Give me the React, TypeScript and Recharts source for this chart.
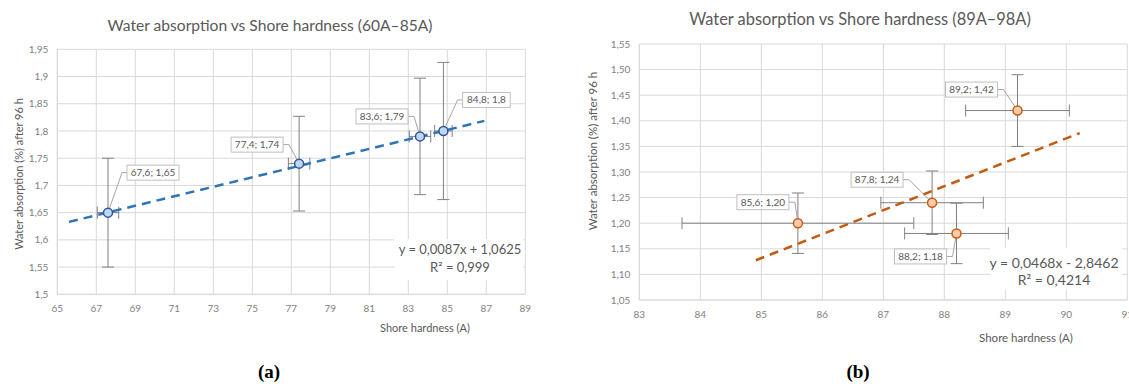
import React from "react";
import {
    ScatterChart,
    Scatter,
    XAxis,
    YAxis,
    CartesianGrid,
    ErrorBar,
} from "recharts";

// (a) 60A–85A
const hardnessA = [67.6, 77.4, 83.6, 84.8];
const absorptionA = [1.65, 1.74, 1.79, 1.8];
const hardnessErrA = [0.55, 0.55, 0.55, 0.45];
const absorptionErrA = [0.1, 0.087, 0.107, 0.126];
const pointLabelsA = ["67,6; 1,65", "77,4; 1,74", "83,6; 1,79", "84,8; 1,8"];
const trendXA = [65.6, 86.9];
const trendYA = [1.633, 1.8185];
const xTicksA = [65, 67, 69, 71, 73, 75, 77, 79, 81, 83, 85, 87, 89];
const yTicksA = [1.5, 1.55, 1.6, 1.65, 1.7, 1.75, 1.8, 1.85, 1.9, 1.95];

// (b) 89A–98A
const hardnessB = [85.6, 87.8, 88.2, 89.2];
const absorptionB = [1.2, 1.24, 1.18, 1.42];
const hardnessErrB = [1.9, 0.84, 0.85, 0.85];
const absorptionErrB = [0.059, 0.062, 0.059, 0.07];
const pointLabelsB = ["85,6; 1,20", "87,8; 1,24", "88,2; 1,18", "89,2; 1,42"];
const trendXB = [84.91, 90.22];
const trendYB = [1.1276, 1.376];
const xTicksB = [83, 84, 85, 86, 87, 88, 89, 90, 91];
const yTicksB = [1.05, 1.1, 1.15, 1.2, 1.25, 1.3, 1.35, 1.4, 1.45, 1.5, 1.55];

// callout placement (pixels relative to the marker)
const calloutsA = [
    { dx: 45, dy: -40, side: "left" },
    { dx: -42, dy: -19, side: "right" },
    { dx: -38, dy: -20, side: "right" },
    { dx: 43, dy: -31, side: "left" },
];
const calloutsB = [
    { dx: -35, dy: -21, side: "right" },
    { dx: -55, dy: -23, side: "right" },
    { dx: -36, dy: 23, side: "right" },
    { dx: -46, dy: -21, side: "right" },
];

const FONT = "Lato, 'Open Sans', sans-serif";
const GRID = "#D9D9D9";
const TEXT = "#595959";
const TICK = "#7F7F7F";

const build = (xs: number[], ys: number[], exs: number[], eys: number[]) =>
    xs.map((x, i) => ({ x, y: ys[i], ex: exs[i], ey: eys[i], i }));

const trend = (xs: number[], ys: number[]) => xs.map((x, i) => ({ x, y: ys[i] }));

const makeShape =
    (labels: string[], callouts: any[], fill: string, stroke: string) =>
    (props: any) => {
        const { cx, cy, payload } = props;
        const i = payload?.i ?? 0;
        const text = labels[i];
        const c = callouts[i];
        const w = text.length * 4.4 + 8;
        const h = 15;
        const bx = cx + c.dx;
        const by = cy + c.dy;
        const ex = c.side === "left" ? bx - w / 2 : bx + w / 2;
        const kx = c.side === "left" ? ex - 5 : ex + 6;
        return (
            <g>
                <polyline
                    points={`${ex},${by} ${kx},${by} ${cx},${cy}`}
                    fill="none"
                    stroke="#A6A6A6"
                    strokeWidth={1}
                />
                <rect
                    x={bx - w / 2}
                    y={by - h / 2}
                    width={w}
                    height={h}
                    fill="#fff"
                    stroke="#BFBFBF"
                    strokeWidth={1}
                />
                <text
                    x={bx}
                    y={by}
                    dy="0.35em"
                    textAnchor="middle"
                    fontSize={10}
                    fontFamily={FONT}
                    fill={TEXT}
                >
                    {text}
                </text>
                <circle cx={cx} cy={cy} r={4.5} fill={fill} stroke={stroke} strokeWidth={1.5} />
            </g>
        );
    };

const noShape = () => <g />;

const fmtA = (v: number) => String(Number(v.toFixed(2))).replace(".", ",");
const fmtB = (v: number) => v.toFixed(2).replace(".", ",");

const abs = (style: React.CSSProperties): React.CSSProperties => ({
    position: "absolute",
    whiteSpace: "nowrap",
    fontFamily: FONT,
    color: TEXT,
    ...style,
});

const center = (x: number, y: number): React.CSSProperties => ({
    left: x,
    top: y,
    transform: "translate(-50%, -50%)",
});

export default function App() {
    const dataA = build(hardnessA, absorptionA, hardnessErrA, absorptionErrA);
    const dataB = build(hardnessB, absorptionB, hardnessErrB, absorptionErrB);

    return (
        <div
            style={{
                position: "fixed",
                left: 0,
                top: 0,
                width: 1129,
                height: 384,
                overflow: "hidden",
                background: "#fff",
            }}
        >
            {/* chart (a) */}
            <div style={{ position: "absolute", left: 0, top: 0 }}>
                <ScatterChart
                    width={545}
                    height={340}
                    margin={{ top: 49.3, right: 19.7, bottom: 15.7, left: 7.3 }}
                >
                    <CartesianGrid stroke={GRID} />
                    <XAxis
                        type="number"
                        dataKey="x"
                        domain={[65, 89]}
                        ticks={xTicksA}
                        allowDataOverflow
                        height={30}
                        axisLine={{ stroke: GRID }}
                        tickLine={false}
                        tickSize={0}
                        tickMargin={11}
                        tick={{ fill: TICK, fontSize: 10, fontFamily: FONT }}
                    />
                    <YAxis
                        type="number"
                        dataKey="y"
                        domain={[1.5, 1.95]}
                        ticks={yTicksA}
                        allowDataOverflow
                        width={50}
                        axisLine={{ stroke: GRID }}
                        tickLine={false}
                        tickSize={0}
                        tickMargin={9}
                        tickFormatter={fmtA}
                        tick={{ fill: TICK, fontSize: 10, fontFamily: FONT }}
                    />
                    <Scatter
                        data={trend(trendXA, trendYA)}
                        line={{ stroke: "#2E75B6", strokeWidth: 2.5, strokeDasharray: "9 6" }}
                        shape={noShape}
                        isAnimationActive={false}
                    />
                    <Scatter
                        data={dataA}
                        shape={makeShape(pointLabelsA, calloutsA, "#BDD7EE", "#2F5597")}
                        isAnimationActive={false}
                    >
                        <ErrorBar dataKey="ey" direction="y" width={6} stroke="#808080" strokeWidth={1} />
                        <ErrorBar dataKey="ex" direction="x" width={6} stroke="#808080" strokeWidth={1} />
                    </Scatter>
                </ScatterChart>
            </div>

            <div style={abs({ ...center(270, 25), fontSize: 15.6 })}>
                Water absorption vs Shore hardness (60A–85A)
            </div>
            <div
                style={abs({
                    left: 18,
                    top: 174,
                    transform: "translate(-50%, -50%) rotate(-90deg)",
                    fontSize: 11,
                })}
            >
                Water absorption (%) after 96 h
            </div>
            <div style={abs({ ...center(425, 327), fontSize: 11 })}>Shore hardness (A)</div>
            <div
                style={abs({
                    left: 394,
                    top: 239,
                    width: 129,
                    height: 41,
                    background: "#fff",
                })}
            />
            <div style={abs({ ...center(460, 249), fontSize: 13 })}>y = 0,0087x + 1,0625</div>
            <div style={abs({ ...center(460, 267), fontSize: 13 })}>R² = 0,999</div>
            <div
                style={abs({
                    ...center(269, 372),
                    fontSize: 19,
                    fontWeight: "bold",
                    fontFamily: "'Liberation Serif', serif",
                    color: "#000",
                })}
            >
                (a)
            </div>

            {/* chart (b) */}
            <div style={{ position: "absolute", left: 560, top: 0 }}>
                <ScatterChart
                    width={580}
                    height={340}
                    margin={{ top: 44, right: 12.7, bottom: 10, left: 29.3 }}
                >
                    <CartesianGrid stroke={GRID} />
                    <XAxis
                        type="number"
                        dataKey="x"
                        domain={[83, 91]}
                        ticks={xTicksB}
                        allowDataOverflow
                        height={30}
                        axisLine={{ stroke: GRID }}
                        tickLine={false}
                        tickSize={0}
                        tickMargin={11}
                        tick={{ fill: TICK, fontSize: 10, fontFamily: FONT }}
                    />
                    <YAxis
                        type="number"
                        dataKey="y"
                        domain={[1.05, 1.55]}
                        ticks={yTicksB}
                        allowDataOverflow
                        width={50}
                        axisLine={{ stroke: GRID }}
                        tickLine={false}
                        tickSize={0}
                        tickMargin={9}
                        tickFormatter={fmtB}
                        tick={{ fill: TICK, fontSize: 10, fontFamily: FONT }}
                    />
                    <Scatter
                        data={trend(trendXB, trendYB)}
                        line={{ stroke: "#C55A11", strokeWidth: 2.5, strokeDasharray: "9 6" }}
                        shape={noShape}
                        isAnimationActive={false}
                    />
                    <Scatter
                        data={dataB}
                        shape={makeShape(pointLabelsB, calloutsB, "#F8CBAD", "#C55A11")}
                        isAnimationActive={false}
                    >
                        <ErrorBar dataKey="ey" direction="y" width={6} stroke="#808080" strokeWidth={1} />
                        <ErrorBar dataKey="ex" direction="x" width={6} stroke="#808080" strokeWidth={1} />
                    </Scatter>
                </ScatterChart>
            </div>

            <div style={abs({ ...center(860, 18), fontSize: 16.4 })}>
                Water absorption vs Shore hardness (89A–98A)
            </div>
            <div
                style={abs({
                    left: 592,
                    top: 151,
                    transform: "translate(-50%, -50%) rotate(-90deg)",
                    fontSize: 11.5,
                })}
            >
                Water absorption (%) after 96 h
            </div>
            <div style={abs({ ...center(1026, 337), fontSize: 11.5 })}>Shore hardness (A)</div>
            <div
                style={abs({
                    left: 990,
                    top: 248,
                    width: 132,
                    height: 42,
                    background: "#fff",
                })}
            />
            <div style={abs({ ...center(1054, 262), fontSize: 14 })}>y = 0,0468x - 2,8462</div>
            <div style={abs({ ...center(1054, 279), fontSize: 14 })}>R² = 0,4214</div>
            <div
                style={abs({
                    ...center(858, 372),
                    fontSize: 19,
                    fontWeight: "bold",
                    fontFamily: "'Liberation Serif', serif",
                    color: "#000",
                })}
            >
                (b)
            </div>
        </div>
    );
}
